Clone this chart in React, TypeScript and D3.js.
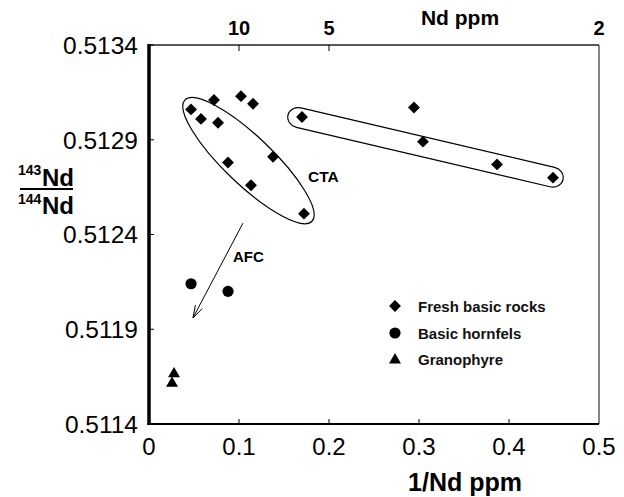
import React from "react";
import * as d3 from "d3";

const freshX = [0.0467, 0.0722, 0.0578, 0.0767, 0.1022, 0.1156, 0.0878, 0.1378, 0.1133, 0.1722, 0.17, 0.2944, 0.3044, 0.3867, 0.4489];
const freshY = [0.51306, 0.51311, 0.51301, 0.51299, 0.51313, 0.51309, 0.51278, 0.51281, 0.51266, 0.51251, 0.51302, 0.51307, 0.51289, 0.51277, 0.5127];
const hornfelsX = [0.0467, 0.0878];
const hornfelsY = [0.51214, 0.5121];
const granoX = [0.0278, 0.0256];
const granoY = [0.51167, 0.51162];
const xTicks = [0, 0.1, 0.2, 0.3, 0.4, 0.5];
const yTicks = [0.5114, 0.5119, 0.5124, 0.5129, 0.5134];
const topTicks = [10, 5, 2];
// annotation geometry in data units
const ctaEnds = [[0.04, 0.51311], [0.1811, 0.51247]];
const freshEnds = [[0.1544, 0.51303], [0.46, 0.51269]];
const afcArrow = [[0.1044, 0.51246], [0.0489, 0.51196]];
const legendItems = ["Fresh basic rocks", "Basic hornfels", "Granophyre"];

const W = 624, H = 497;
const FONT = "'Liberation Sans', Arial, sans-serif";

export default function App() {
  const x = d3.scaleLinear().domain([0, 0.5]).range([149, 599]);
  const y = d3.scaleLinear().domain([0.5114, 0.5134]).range([424, 45]);

  const diamond = (cx: number, cy: number, k: string) => (
    <rect key={k} x={-4.2} y={-4.2} width={8.4} height={8.4} fill="#000"
      transform={`translate(${cx},${cy}) rotate(45)`} />
  );
  const circle = (cx: number, cy: number, k: string) => (
    <circle key={k} cx={cx} cy={cy} r={5.6} fill="#000" />
  );
  const triPath = d3.symbol().type(d3.symbolTriangle).size(62)() as string;
  const tri = (cx: number, cy: number, k: string) => (
    <path key={k} d={triPath} transform={`translate(${cx},${cy + 1})`} fill="#000" />
  );

  const ellipseEl = (ends: number[][], half: number, stadium: boolean) => {
    const x1 = x(ends[0][0]), y1 = y(ends[0][1]), x2 = x(ends[1][0]), y2 = y(ends[1][1]);
    const cx = (x1 + x2) / 2, cy = (y1 + y2) / 2;
    const len = Math.hypot(x2 - x1, y2 - y1);
    const ang = (Math.atan2(y2 - y1, x2 - x1) * 180) / Math.PI;
    if (stadium) {
      return (
        <rect x={-len / 2} y={-half} width={len} height={half * 2} rx={half * 1.1} ry={half}
          fill="none" stroke="#000" strokeWidth={1.2}
          transform={`translate(${cx},${cy}) rotate(${ang})`} />
      );
    }
    return (
      <ellipse cx={0} cy={0} rx={len / 2} ry={half} fill="none" stroke="#000" strokeWidth={1.2}
        transform={`translate(${cx},${cy}) rotate(${ang})`} />
    );
  };

  const ax1 = x(afcArrow[0][0]), ay1 = y(afcArrow[0][1]);
  const ax2 = x(afcArrow[1][0]), ay2 = y(afcArrow[1][1]);
  const aAng = Math.atan2(ay1 - ay2, ax1 - ax2);
  const headLen = 13, headSpread = 0.3;
  const h1 = [ax2 + headLen * Math.cos(aAng + headSpread), ay2 + headLen * Math.sin(aAng + headSpread)];
  const h2 = [ax2 + headLen * Math.cos(aAng - headSpread), ay2 + headLen * Math.sin(aAng - headSpread)];

  const legendY = [306, 333, 359];
  const legendX = 395;

  return (
    <svg width={W} height={H} style={{ position: "absolute", left: 0, top: 0, background: "#fff" }} fontFamily={FONT}>
      <rect x={0} y={0} width={W} height={H} fill="#fff" />
      {/* frame */}
      <line x1={x(0)} x2={x(0.5)} y1={y(0.5134)} y2={y(0.5134)} stroke="#222" strokeWidth={1.3} />
      <line x1={x(0.5)} x2={x(0.5)} y1={y(0.5134)} y2={y(0.5114)} stroke="#222" strokeWidth={1.1} />
      <line x1={x(0) - 1.5} x2={x(0.5)} y1={y(0.5114)} y2={y(0.5114)} stroke="#000" strokeWidth={2.2} />
      <line x1={x(0)} x2={x(0)} y1={y(0.5134) - 1} y2={y(0.5114) + 1} stroke="#000" strokeWidth={3.5} />

      {/* left ticks & labels */}
      {yTicks.map((t) => (
        <g key={`y${t}`}>
          <line x1={x(0)} x2={x(0) + 5} y1={y(t)} y2={y(t)} stroke="#000" strokeWidth={1} />
          <text x={138} y={y(t)} dy="0.36em" textAnchor="end" fontSize={24.5}>{t.toFixed(4)}</text>
        </g>
      ))}
      {/* bottom ticks & labels */}
      {xTicks.map((t) => (
        <g key={`x${t}`}>
          {t > 0 && t < 0.5 && (
            <line x1={x(t)} x2={x(t)} y1={y(0.5114)} y2={y(0.5114) - 5} stroke="#000" strokeWidth={1} />
          )}
          <text x={x(t)} y={455} textAnchor="middle" fontSize={24}>{t === 0 ? "0" : String(t)}</text>
        </g>
      ))}
      {/* top ticks & labels */}
      {topTicks.map((t) => (
        <g key={`t${t}`}>
          {t !== 2 && (
            <line x1={x(1 / t)} x2={x(1 / t)} y1={y(0.5134)} y2={y(0.5134) + 6} stroke="#000" strokeWidth={1} />
          )}
          <text x={x(1 / t)} y={35} textAnchor="middle" fontSize={20} fontWeight="bold">{t}</text>
        </g>
      ))}
      <text x={460} y={25} textAnchor="middle" fontSize={21} fontWeight="bold">Nd ppm</text>
      <text x={465} y={491} textAnchor="middle" fontSize={25} fontWeight="bold">1/Nd ppm</text>

      {/* y axis label fraction */}
      <g fontWeight="bold">
        <text x={18} y={175} fontSize={14}>143</text>
        <text x={42} y={186} fontSize={24}>Nd</text>
        <line x1={20} x2={73} y1={189} y2={189} stroke="#000" strokeWidth={2} />
        <text x={18} y={204} fontSize={14}>144</text>
        <text x={42} y={214} fontSize={24}>Nd</text>
      </g>

      {/* annotations */}
      {ellipseEl(ctaEnds, 24, false)}
      {ellipseEl(freshEnds, 10, true)}
      <text x={308} y={182} fontSize={15.5} fontWeight="bold">CTA</text>
      <line x1={ax1} y1={ay1} x2={ax2} y2={ay2} stroke="#000" strokeWidth={1} />
      <polyline points={`${h1[0]},${h1[1]} ${ax2},${ay2} ${h2[0]},${h2[1]}`} fill="none" stroke="#000" strokeWidth={1} />
      <text x={233} y={262} fontSize={15} fontWeight="bold">AFC</text>

      {/* data */}
      {freshX.map((v, i) => diamond(x(v), y(freshY[i]), `f${i}`))}
      {hornfelsX.map((v, i) => circle(x(v), y(hornfelsY[i]), `h${i}`))}
      {granoX.map((v, i) => tri(x(v), y(granoY[i]), `g${i}`))}

      {/* legend */}
      {diamond(legendX, legendY[0], "l0")}
      {circle(legendX, legendY[1], "l1")}
      {tri(legendX, legendY[2], "l2")}
      {legendItems.map((s, i) => (
        <text key={s} x={418} y={legendY[i] + 5.5} fontSize={15} fontWeight="bold" fill="#111">{s}</text>
      ))}
    </svg>
  );
}
